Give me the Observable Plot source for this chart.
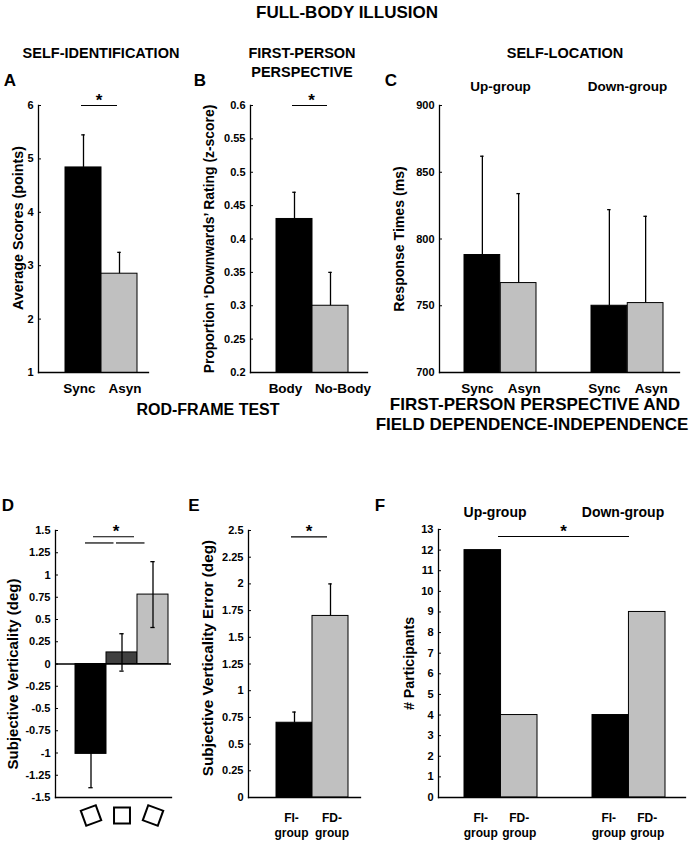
<!DOCTYPE html>
<html>
<head>
<meta charset="utf-8">
<script src="https://cdn.jsdelivr.net/npm/d3@7"></script>
<script src="https://cdn.jsdelivr.net/npm/@observablehq/plot@0.6"></script>
<style>
  body { margin: 0; background: #fff; }
  #fig { position: relative; width: 698px; height: 842px; overflow: hidden; background: #fff;
         font-family: "Liberation Sans", Arial, Helvetica, sans-serif; font-weight: bold; color: #000; }
  .t { position: absolute; white-space: nowrap; line-height: 1; transform: translateX(-50%); }
  #fig svg text { font-family: "Liberation Sans", Arial, Helvetica, sans-serif; font-weight: bold; }
</style>
</head>
<body>
<div id="fig"></div>
<script>
// ---------------- DATA ----------------
// A: self-identification
const condA = ["Sync", "Asyn"];
const meanA = [4.84, 2.85];
const upperA = [5.45, 3.25];
const ticksA = [1, 2, 3, 4, 5, 6];
// B: first-person perspective
const condB = ["Body", "No-Body"];
const meanB = [0.43, 0.30];
const upperB = [0.47, 0.35];
const ticksB = [0.2, 0.25, 0.3, 0.35, 0.4, 0.45, 0.5, 0.55, 0.6];
// C: self-location
const groupC = ["Up-group", "Up-group", "Down-group", "Down-group"];
const condC = ["Sync", "Asyn", "Sync", "Asyn"];
const meanC = [788, 767, 750, 752];
const upperC = [862, 834, 822, 817];
const ticksC = [700, 750, 800, 850, 900];
// D: rod-frame test (frame tilt)
const condD = ["tilt left", "upright", "tilt right"];
const tiltD = [-20, 0, 20];
const meanD = [-1.01, 0.13, 0.78];
const semD = [0.38, 0.21, 0.37];
const ticksD = [-1.5, -1.25, -1, -0.75, -0.5, -0.25, 0, 0.25, 0.5, 0.75, 1, 1.25, 1.5];
// E: subjective verticality error
const condE = ["FI-\ngroup", "FD-\ngroup"];
const meanE = [0.70, 1.70];
const upperE = [0.80, 2.00];
const ticksE = [0, 0.25, 0.5, 0.75, 1, 1.25, 1.5, 1.75, 2, 2.25, 2.5];
// F: participants
const groupF = ["Up-group", "Up-group", "Down-group", "Down-group"];
const condF = ["FI-\ngroup", "FD-\ngroup", "FI-\ngroup", "FD-\ngroup"];
const countF = [12, 4, 4, 9];
const ticksF = [0, 1, 2, 3, 4, 5, 6, 7, 8, 9, 10, 11, 12, 13];
// significance annotations
const sigA = [{from: "Sync", to: "Asyn", y: 6}];
const sigB = [{from: "Body", to: "No-Body", y: 0.6}];
const sigDlow = [{from: "tilt left", to: "upright", y: 1.36}, {from: "upright", to: "tilt right", y: 1.36}];
const sigDtop = [{from: "tilt left", to: "tilt right", y: 1.43}];
const sigE = [{from: "FI-\ngroup", to: "FD-\ngroup", y: 2.44}];
const sigF = [{from: "Up-group", to: "Down-group", y: 12.66}];

// ---------------- STYLE / LAYOUT ----------------
const FONT = "Liberation Sans, Arial, Helvetica, sans-serif";
const BLACK = "#000000", GRAY = "#c0c0c0", DARK = "#404040";
const TXT = {fontFamily: FONT, fontWeight: "bold"};
const fig = document.getElementById("fig");

function title(text, cx, cy, size) {
  const d = document.createElement("div");
  d.className = "t";
  d.textContent = text;
  d.style.left = cx + "px";
  d.style.top = (cy - size / 2) + "px";
  d.style.fontSize = size + "px";
  fig.append(d);
}
function add(plot, box) {
  plot.style.position = "absolute";
  plot.style.left = box.x + "px";
  plot.style.top = box.y + "px";
  fig.append(plot);
}
function dims(box, fr) {
  return {
    width: box.w, height: box.h,
    marginLeft: fr.x0 - box.x, marginTop: fr.y0 - box.y,
    marginRight: box.x + box.w - fr.x1, marginBottom: box.y + box.h - fr.y1,
    style: "background:transparent;font-weight:bold;font-size:11px;overflow:visible;max-width:none;"
  };
}
// MATLAB-like spines (left + bottom) with small inward ticks
function spines(ticks, fr) {
  return [
    Plot.frame({anchor: "left", stroke: BLACK, strokeWidth: 1.3}),
    Plot.frame({anchor: "bottom", stroke: BLACK, strokeWidth: 1.3}),
    Plot.tickY(ticks, {y: d => d, insetRight: (fr.x1 - fr.x0) - 3, strokeWidth: 1})
  ];
}
function yAxis(ticks, label, ldx, ldy, lsize) {
  return [
    Plot.axisY(ticks, {tickSize: 0, tickPadding: 5, tickFormat: d => `${d}`, label: null, fontSize: 11, ...TXT}),
    Plot.text([label], {text: d => d, frameAnchor: "left", rotate: -90, textAnchor: "middle", lineAnchor: "top", dx: ldx, dy: ldy, fontSize: lsize, ...TXT})
  ];
}
function xLabels(data, xField, textField, match, offsets, opts) {
  return match.map((m, i) => Plot.text(data, {filter: d => d[textField] === m, x: xField, text: textField, dx: offsets[i],
    frameAnchor: "bottom", lineAnchor: "top", ...TXT, ...opts}));
}
const star = (data, dx) => Plot.text(data, {x: "from", y: "y", text: () => "*", dx, dy: -5, lineAnchor: "middle", fontSize: 17, ...TXT});

// ---------------- TITLES ----------------
title("FULL-BODY ILLUSION", 347, 12, 17);
title("SELF-IDENTIFICATION", 101, 53, 14.5);
title("FIRST-PERSON", 302, 53, 14.5);
title("PERSPECTIVE", 302, 72, 14.5);
title("SELF-LOCATION", 565, 53, 14.5);
title("A", 10, 80, 17);
title("B", 200, 80, 17);
title("C", 391, 80, 17);
title("ROD-FRAME TEST", 208, 410, 16);
title("FIRST-PERSON PERSPECTIVE AND", 535, 404, 17);
title("FIELD DEPENDENCE-INDEPENDENCE", 532, 424, 17);
title("D", 8, 505, 17);
title("E", 194, 505, 17);
title("F", 380, 505, 17);

// ---------------- PANEL A ----------------
{
  const box = {x: 0, y: 60, w: 185, h: 340}, fr = {x0: 38, y0: 105, x1: 148, y1: 372};
  const data = condA.map((c, i) => ({cond: c, mean: meanA[i], upper: upperA[i]}));
  const r = [64 - box.x, 137 - box.x], bw = (r[1] - r[0]) / condA.length;
  add(Plot.plot({
    ...dims(box, fr),
    x: {domain: condA, range: r, paddingInner: 0, paddingOuter: 0, axis: null},
    y: {domain: [1, 6]},
    color: {domain: condA, range: [BLACK, GRAY]},
    marks: [
      Plot.barY(data, {x: "cond", y: "mean", fill: "cond", stroke: BLACK, strokeWidth: 1, clip: true}),
      Plot.ruleX(data, {x: "cond", y1: "mean", y2: "upper", strokeWidth: 1.3}),
      Plot.tickY(data, {x: "cond", y: "upper", inset: bw / 2 - 2, strokeWidth: 1.3}),
      Plot.ruleY(sigA, {x1: "from", x2: "to", y: "y", insetLeft: 16, insetRight: 20, strokeWidth: 1.2}),
      star(sigA, 15.5),
      ...xLabels(data, "cond", "cond", condA, [-4, 5.5], {dy: 10.5, fontSize: 13.5}),
      ...spines(ticksA, fr),
      ...yAxis(ticksA, "Average Scores (points)", -25.3, -11, 14.3)
    ]
  }), box);
}

// ---------------- PANEL B ----------------
{
  const box = {x: 185, y: 60, w: 190, h: 340}, fr = {x0: 250, y0: 105, x1: 367, y1: 372};
  const data = condB.map((c, i) => ({cond: c, mean: meanB[i], upper: upperB[i]}));
  const r = [275 - box.x, 348 - box.x], bw = (r[1] - r[0]) / condB.length;
  add(Plot.plot({
    ...dims(box, fr),
    x: {domain: condB, range: r, paddingInner: 0, paddingOuter: 0, axis: null},
    y: {domain: [0.2, 0.6]},
    color: {domain: condB, range: [BLACK, GRAY]},
    marks: [
      Plot.barY(data, {x: "cond", y: "mean", fill: "cond", stroke: BLACK, strokeWidth: 1, clip: true}),
      Plot.ruleX(data, {x: "cond", y1: "mean", y2: "upper", strokeWidth: 1.3}),
      Plot.tickY(data, {x: "cond", y: "upper", inset: bw / 2 - 2, strokeWidth: 1.3}),
      Plot.ruleY(sigB, {x1: "from", x2: "to", y: "y", insetLeft: 16, insetRight: 21, strokeWidth: 1.2}),
      star(sigB, 17),
      ...xLabels(data, "cond", "cond", condB, [-9, 12.5], {dy: 10.5, fontSize: 13.5}),
      ...spines(ticksB, fr),
      ...yAxis(ticksB, "Proportion \u2018Downwards\u2019 Rating (z-score)", -46.7, 0, 13.9)
    ]
  }), box);
}

// ---------------- PANEL C ----------------
{
  const box = {x: 375, y: 60, w: 323, h: 340}, fr = {x0: 439, y0: 105, x1: 679, y1: 372};
  const data = groupC.map((g, i) => ({group: g, cond: condC[i], mean: meanC[i], upper: upperC[i]}));
  const groups = [...new Set(groupC)];
  const r = [464 - box.x, 664 - box.x], pin = 0.431;
  const band = d3.scaleBand(groups, r).paddingInner(pin).paddingOuter(0);
  const bw = band.bandwidth(), half = bw / 2;
  const left = d => d.cond === condC[0], right = d => d.cond === condC[1];
  add(Plot.plot({
    ...dims(box, fr),
    x: {domain: groups, range: r, paddingInner: pin, paddingOuter: 0, axis: null},
    y: {domain: [700, 900]},
    color: {domain: [condC[0], condC[1]], range: [BLACK, GRAY]},
    marks: [
      Plot.barY(data, {filter: left, x: "group", y: "mean", fill: "cond", insetRight: half, stroke: BLACK, strokeWidth: 1, clip: true}),
      Plot.barY(data, {filter: right, x: "group", y: "mean", fill: "cond", insetLeft: half, stroke: BLACK, strokeWidth: 1, clip: true}),
      Plot.ruleX(data, {filter: left, x: "group", y1: "mean", y2: "upper", dx: -half / 2, strokeWidth: 1.3}),
      Plot.ruleX(data, {filter: right, x: "group", y1: "mean", y2: "upper", dx: half / 2, strokeWidth: 1.3}),
      Plot.tickY(data, {filter: left, x: "group", y: "upper", insetLeft: half / 2 - 2, insetRight: bw - half / 2 - 2, strokeWidth: 1.3}),
      Plot.tickY(data, {filter: right, x: "group", y: "upper", insetLeft: bw - half / 2 - 2, insetRight: half / 2 - 2, strokeWidth: 1.3}),
      ...xLabels(data, "group", "cond", [condC[0], condC[1]], [-half / 2 - 5, half / 2 + 5.5], {dy: 10.5, fontSize: 13.5}),
      Plot.text(groups, {x: d => d, text: d => d, frameAnchor: "top", lineAnchor: "middle", dy: -19, fontSize: 13.5, ...TXT}),
      ...spines(ticksC, fr),
      ...yAxis(ticksC, "Response Times (ms)", -45.7, 0, 14.1)
    ]
  }), box);
}

// ---------------- PANEL D ----------------
{
  const box = {x: 0, y: 480, w: 185, h: 362}, fr = {x0: 55, y0: 530, x1: 171, y1: 797};
  const data = condD.map((c, i) => ({cond: c, tilt: tiltD[i], mean: meanD[i], lo: meanD[i] - semD[i], hi: meanD[i] + semD[i]}));
  const r = [74 - box.x, 169 - box.x], bw = (r[1] - r[0]) / condD.length;
  add(Plot.plot({
    ...dims(box, fr),
    x: {domain: condD, range: r, paddingInner: 0, paddingOuter: 0, axis: null},
    y: {domain: [-1.5, 1.5]},
    color: {domain: condD, range: [BLACK, DARK, GRAY]},
    marks: [
      Plot.barY(data, {x: "cond", y: "mean", fill: "cond", stroke: BLACK, strokeWidth: 1}),
      Plot.ruleY([0], {strokeWidth: 1.3}),
      Plot.ruleX(data, {x: "cond", y1: "lo", y2: "hi", strokeWidth: 1.3}),
      Plot.tickY(data, {x: "cond", y: "lo", inset: bw / 2 - 2.5, strokeWidth: 1.3}),
      Plot.tickY(data, {x: "cond", y: "hi", inset: bw / 2 - 2.5, strokeWidth: 1.3}),
      Plot.ruleY(sigDlow, {x1: "from", x2: "to", y: "y", insetLeft: 10, insetRight: 23.5, strokeWidth: 1.2}),
      Plot.ruleY(sigDtop, {x1: "from", x2: "to", y: "y", insetLeft: 18, insetRight: 34, strokeWidth: 1.2}),
      star(sigDtop, 25),
      Plot.dot(data, {x: "cond", frameAnchor: "bottom", dy: 18, symbol: "square", r: 9, rotate: "tilt", fill: "white", stroke: BLACK, strokeWidth: 2}),
      ...spines(ticksD, fr),
      ...yAxis(ticksD, "Subjective Verticality (deg)", -48.3, 10, 15)
    ]
  }), box);
}

// ---------------- PANEL E ----------------
{
  const box = {x: 185, y: 480, w: 185, h: 362}, fr = {x0: 248, y0: 530, x1: 360, y1: 797};
  const data = condE.map((c, i) => ({cond: c, mean: meanE[i], upper: upperE[i]}));
  const r = [275 - box.x, 348 - box.x], bw = (r[1] - r[0]) / condE.length;
  add(Plot.plot({
    ...dims(box, fr),
    x: {domain: condE, range: r, paddingInner: 0, paddingOuter: 0, axis: null},
    y: {domain: [0, 2.5]},
    color: {domain: condE, range: [BLACK, GRAY]},
    marks: [
      Plot.barY(data, {x: "cond", y: "mean", fill: "cond", stroke: BLACK, strokeWidth: 1}),
      Plot.ruleX(data, {x: "cond", y1: "mean", y2: "upper", strokeWidth: 1.3}),
      Plot.tickY(data, {x: "cond", y: "upper", inset: bw / 2 - 2, strokeWidth: 1.3}),
      Plot.ruleY(sigE, {x1: "from", x2: "to", y: "y", insetLeft: 15, insetRight: 21, strokeWidth: 1.2}),
      star(sigE, 14.5),
      ...xLabels(data, "cond", "cond", condE, [-3, 1.5], {dy: 13, lineHeight: 1.3, fontSize: 12}),
      ...spines(ticksE, fr),
      ...yAxis(ticksE, "Subjective Verticality Error (deg)", -46.3, -6, 15.3)
    ]
  }), box);
}

// ---------------- PANEL F ----------------
{
  const box = {x: 370, y: 480, w: 328, h: 362}, fr = {x0: 438, y0: 529, x1: 685, y1: 797};
  const data = groupF.map((g, i) => ({group: g, cond: condF[i], count: countF[i]}));
  const groups = [...new Set(groupF)];
  const r = [464 - box.x, 665 - box.x], pin = 0.431;
  const band = d3.scaleBand(groups, r).paddingInner(pin).paddingOuter(0);
  const bw = band.bandwidth(), half = bw / 2;
  const left = d => d.cond === condF[0], right = d => d.cond === condF[1];
  add(Plot.plot({
    ...dims(box, fr),
    x: {domain: groups, range: r, paddingInner: pin, paddingOuter: 0, axis: null},
    y: {domain: [0, 13]},
    color: {domain: [condF[0], condF[1]], range: [BLACK, GRAY]},
    marks: [
      Plot.barY(data, {filter: left, x: "group", y: "count", fill: "cond", insetRight: half, stroke: BLACK, strokeWidth: 1}),
      Plot.barY(data, {filter: right, x: "group", y: "count", fill: "cond", insetLeft: half, stroke: BLACK, strokeWidth: 1}),
      Plot.ruleY(sigF, {x1: "from", x2: "to", y: "y", insetLeft: 34, insetRight: 36, strokeWidth: 1.2}),
      star(sigF, 62.5),
      ...xLabels(data, "group", "cond", [condF[0], condF[1]], [-half / 2 - 2, half / 2], {dy: 13, lineHeight: 1.3, fontSize: 12}),
      Plot.text(groups, {x: d => d, text: d => d, frameAnchor: "top", lineAnchor: "middle", dy: -17, dx: -6, fontSize: 14, ...TXT}),
      ...spines(ticksF, fr),
      ...yAxis(ticksF, "# Participants", -34.7, 0, 14.2)
    ]
  }), box);
}
</script>
</body>
</html>
